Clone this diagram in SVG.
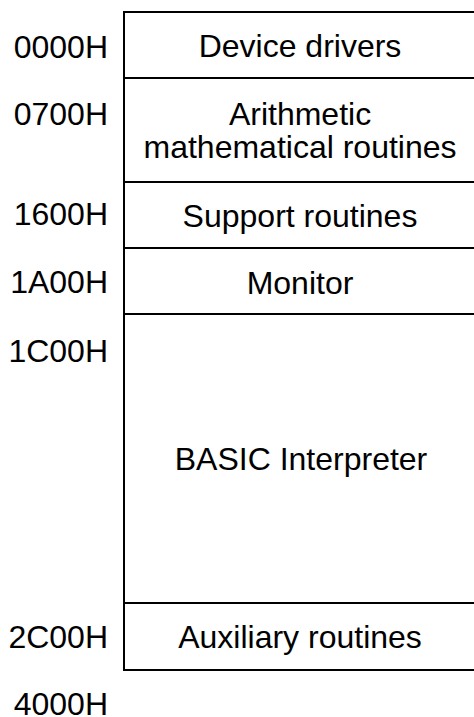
<svg xmlns="http://www.w3.org/2000/svg" width="474" height="717" viewBox="0 0 474 717">
  <style>
    text { font-family: "Liberation Sans", Arial, sans-serif; font-size: 32px; fill: #000; }
    .addr { text-anchor: end; }
    .name { text-anchor: middle; }
    .rule { stroke: #000; stroke-width: 2; fill: none; }
  </style>
  <rect width="474" height="717" fill="#fff"/>
  <!-- memory map frame and segment boundaries -->
  <g id="connectors">
    <path class="rule" d="M474 12 H124 V670 H474"/>
    <path class="rule" d="M124 78 H474 M124 182 H474 M124 248 H474 M124 314 H474 M124 603 H474"/>
  </g>
  <!-- segments -->
  <g id="device-drivers"><text class="name" x="300" y="57">Device drivers</text></g>
  <g id="arithmetic"><text class="name" x="300" y="125">Arithmetic</text><text class="name" x="300" y="158">mathematical routines</text></g>
  <g id="support"><text class="name" x="300" y="227">Support routines</text></g>
  <g id="monitor"><text class="name" x="300" y="294">Monitor</text></g>
  <g id="basic"><text class="name" x="301" y="470">BASIC Interpreter</text></g>
  <g id="auxiliary"><text class="name" x="300" y="648">Auxiliary routines</text></g>
  <!-- addresses -->
  <g id="addresses">
    <text class="addr" x="108" y="58">0000H</text>
    <text class="addr" x="108" y="125">0700H</text>
    <text class="addr" x="108" y="225">1600H</text>
    <text class="addr" x="108" y="293">1A00H</text>
    <text class="addr" x="108" y="362">1C00H</text>
    <text class="addr" x="108" y="648">2C00H</text>
    <text class="addr" x="108" y="715">4000H</text>
  </g>
</svg>
